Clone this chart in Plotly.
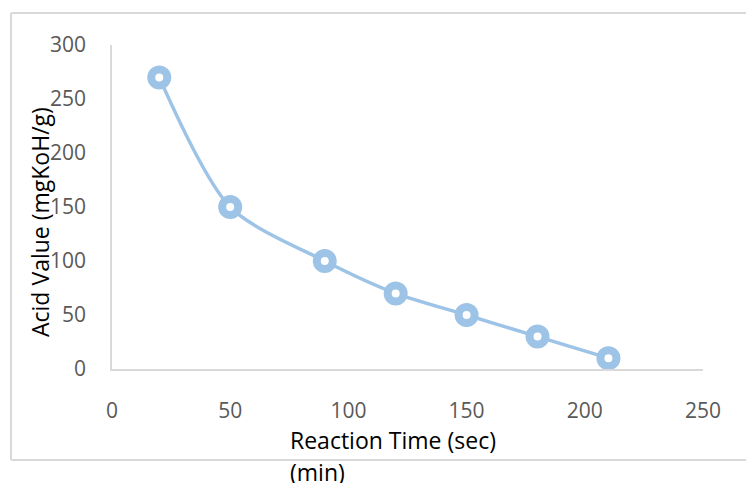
import plotly.graph_objects as go

reaction_time = [20, 50, 90, 120, 150, 180, 210]
acid_value = [270, 150, 100, 70, 50, 30, 10]
x_ticks = [0, 50, 100, 150, 200, 250]
y_ticks = [0, 50, 100, 150, 200, 250, 300]

# page body has an 8px margin, so shift the figure accordingly
OFF = 8
W, H = 754 - OFF, 483 - OFF
L, T = 112 - OFF, 45 - OFF
R = 754 - 703
B = 483 - 369
pw, ph = W - L - R, H - T - B

def px_x(p):
    return (p - OFF - L) / pw

def px_y(p):
    return (T + ph - (p - OFF)) / ph

blue = "#9dc3e6"
font = "Open Sans"
frame_color = "#d9d9d9"

fig = go.Figure()
fig.add_trace(go.Scatter(
    x=reaction_time, y=acid_value, mode="lines+markers",
    line=dict(color=blue, width=3.5, shape="spline", smoothing=0.8),
    marker=dict(symbol="circle", size=16, color="white",
                line=dict(color=blue, width=8)),
    showlegend=False,
))

fx0, fx1 = px_x(11), px_x(760)
fy0, fy1 = px_y(460), px_y(13)
frame = [
    dict(type="line", xref="paper", yref="paper", x0=fx0, x1=fx1, y0=fy1, y1=fy1,
         line=dict(color=frame_color, width=2), layer="below"),
    dict(type="line", xref="paper", yref="paper", x0=fx0, x1=fx1, y0=fy0, y1=fy0,
         line=dict(color=frame_color, width=2), layer="below"),
    dict(type="line", xref="paper", yref="paper", x0=fx0, x1=fx0, y0=fy0, y1=fy1,
         line=dict(color=frame_color, width=2), layer="below"),
]

fig.update_layout(
    width=W, height=H,
    margin=dict(l=L, r=R, t=T, b=B),
    paper_bgcolor="white", plot_bgcolor="white",
    font=dict(family=font, size=21, color="#595959"),
    xaxis=dict(range=[0, 250], tickvals=x_ticks, showgrid=False, zeroline=False,
               showline=True, linecolor=frame_color, linewidth=1.5,
               ticks="", ticklabelstandoff=22,
               tickfont=dict(family=font, size=21, color="#595959")),
    yaxis=dict(range=[0, 300], tickvals=y_ticks, showgrid=False, zeroline=False,
               showline=True, linecolor=frame_color, linewidth=1.5,
               ticks="", ticklabelstandoff=20,
               tickfont=dict(family=font, size=21, color="#595959")),
    shapes=frame,
    annotations=[
        dict(text="Reaction Time (sec)", xref="paper", yref="paper",
             x=px_x(288), y=px_y(440), xanchor="left", yanchor="middle",
             showarrow=False, font=dict(family=font, size=23, color="#000000")),
        dict(text="(min)", xref="paper", yref="paper",
             x=px_x(288), y=px_y(472), xanchor="left", yanchor="middle",
             showarrow=False, font=dict(family=font, size=23, color="#000000")),
        dict(text="Acid Value (mgKoH/g)", xref="paper", yref="paper",
             x=px_x(40), y=px_y(222), xanchor="center", yanchor="middle",
             textangle=-90, showarrow=False,
             font=dict(family=font, size=23, color="#000000")),
    ],
)

fig.write_html("out.html")
